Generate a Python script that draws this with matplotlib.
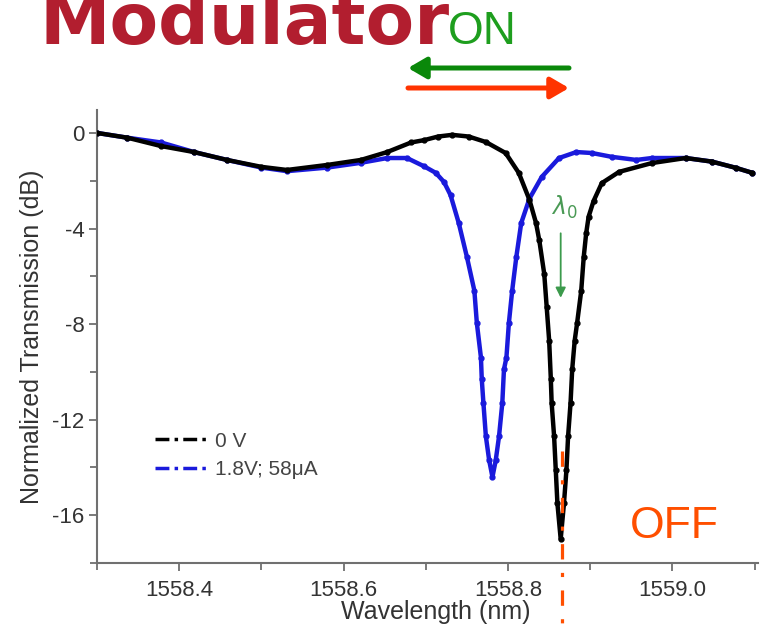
import matplotlib
matplotlib.use('Agg')
import matplotlib.pyplot as plt
from matplotlib.lines import Line2D
from matplotlib.ticker import MultipleLocator, FormatStrFormatter

plt.rcParams['font.family'] = ['Liberation Sans', 'DejaVu Sans']
plt.rcParams['axes.unicode_minus'] = False

# transmission at 0 V (nm, dB)
wl_0v = [1558.300, 1558.337, 1558.378, 1558.418, 1558.458, 1558.500, 1558.531,
         1558.580, 1558.621, 1558.653, 1558.682, 1558.698, 1558.715, 1558.732,
         1558.752, 1558.773, 1558.797, 1558.813, 1558.826, 1558.834, 1558.838,
         1558.844, 1558.847, 1558.850, 1558.852, 1558.853, 1558.856, 1558.858,
         1558.860, 1558.864, 1558.868, 1558.871, 1558.873, 1558.876, 1558.878,
         1558.881, 1558.884, 1558.889, 1558.892, 1558.895, 1558.898, 1558.904,
         1558.914, 1558.935, 1558.975, 1559.016, 1559.048, 1559.077, 1559.097]
tr_0v = [0.0, -0.2, -0.55, -0.8, -1.13, -1.42, -1.55,
         -1.34, -1.13, -0.8, -0.4, -0.3, -0.15, -0.08,
         -0.15, -0.38, -0.84, -1.67, -2.8, -3.77, -4.5,
         -5.9, -7.3, -8.7, -10.3, -11.3, -12.7, -14.1,
         -15.5, -17.0, -15.5, -14.1, -12.7, -11.3, -9.9,
         -8.7, -7.95, -6.6, -5.2, -4.2, -3.5, -2.85,
         -2.1, -1.63, -1.26, -1.05, -1.2, -1.46, -1.67]

# transmission at 1.8 V; 58 uA
wl_bias = [1558.300, 1558.337, 1558.378, 1558.418, 1558.458, 1558.500, 1558.531,
           1558.580, 1558.621, 1558.653, 1558.677, 1558.698, 1558.712, 1558.722,
           1558.730, 1558.740, 1558.750, 1558.759, 1558.762, 1558.767, 1558.768,
           1558.770, 1558.773, 1558.777, 1558.781, 1558.785, 1558.789, 1558.793,
           1558.795, 1558.798, 1558.801, 1558.805, 1558.810, 1558.816, 1558.826,
           1558.841, 1558.862, 1558.883, 1558.902, 1558.926, 1558.956, 1558.975,
           1559.016, 1559.048, 1559.077, 1559.097]
tr_bias = [0.0, -0.2, -0.4, -0.8, -1.13, -1.45, -1.6,
           -1.45, -1.25, -1.05, -1.05, -1.4, -1.67, -2.05,
           -2.6, -3.77, -5.2, -6.6, -7.95, -9.4, -10.3,
           -11.3, -12.7, -13.7, -14.4, -13.7, -12.7, -11.3,
           -9.9, -9.4, -7.95, -6.6, -5.2, -3.77, -2.75,
           -1.84, -1.05, -0.8, -0.84, -1.0, -1.13, -1.05,
           -1.05, -1.2, -1.46, -1.67]

labels = ['0 V', '1.8V; 58\u03bcA']
colors = ['black', '#1a1adc']
lambda0 = 1558.865

fig = plt.figure(figsize=(7.61, 6.31), dpi=100)
ax = fig.add_axes([97 / 761, 68 / 631, 661 / 761, 453 / 631])

ax.plot(wl_bias, tr_bias, color=colors[1], lw=3.2, marker='o', ms=3.5, zorder=2)
ax.plot(wl_0v, tr_0v, color=colors[0], lw=3.2, marker='o', ms=3.5, zorder=3)

ax.set_xlim(1558.3, 1559.104)
ax.set_ylim(-18, 0.96)
ax.xaxis.set_major_locator(MultipleLocator(0.2))
ax.xaxis.set_minor_locator(MultipleLocator(0.1))
ax.xaxis.set_major_formatter(FormatStrFormatter('%.1f'))
ax.yaxis.set_major_locator(MultipleLocator(4))
ax.yaxis.set_minor_locator(MultipleLocator(2))

for s in ['top', 'right']:
    ax.spines[s].set_visible(False)
for s in ['left', 'bottom']:
    ax.spines[s].set_color('#707070')
    ax.spines[s].set_linewidth(1.5)
ax.tick_params(which='both', direction='out', color='#707070', width=1.3,
               labelsize=16, labelcolor='#333333')
ax.tick_params(which='major', length=6)
ax.tick_params(which='minor', length=5)
ax.tick_params(axis='x', pad=6)
ax.tick_params(axis='y', pad=3)

ax.set_xlabel('Wavelength (nm)', fontsize=18, color='#333333')
ax.xaxis.set_label_coords((436 - 97) / 661, -(612 - 563) / 453)
ax.xaxis.label.set_va('center')
ax.set_ylabel('Normalized Transmission (dB)', fontsize=18, color='#333333')
ax.yaxis.set_label_coords(-(97 - 32) / 661, 0.5)
ax.yaxis.label.set_va('center')

handles = [Line2D([], [], color=c, lw=2.5, ls=(0, (4, 1.5, 1, 1.5))) for c in colors]
ax.legend(handles, labels, loc='upper left', bbox_to_anchor=(0.088, 0.29),
          frameon=False, fontsize=15, labelcolor='#444444', handlelength=2.6,
          handletextpad=0.25, labelspacing=0.45, borderaxespad=0, borderpad=0)

# resonance marker
ax.annotate('', xy=(lambda0 - 0.001, -6.9), xytext=(lambda0 - 0.001, -4.2),
            arrowprops=dict(arrowstyle='-|>,head_length=0.5,head_width=0.25',
                            color='#3c9a4c', lw=1.3, shrinkA=0, shrinkB=0,
                            mutation_scale=12))
ax.text(lambda0 + 0.003, -3.1, r'$\lambda_0$', color='#4a9a55', fontsize=17,
        ha='center', va='center')

# operating wavelength, OFF state
ax.plot([lambda0, lambda0], [-13.3, -21], color='#ff4f00', lw=2.3,
        ls=(0, (4.8, 4.2, 1.3, 4.2)), clip_on=False, zorder=4)
fig.text(630 / 761, 1 - 526 / 631, 'OFF', color='#ff4f00', fontsize=32,
         va='center', ha='left')

# heading and tuning arrows
fig.text(40 / 761, 1 - 44 / 631, 'Modulator', color='#b21e2f', fontsize=51,
         fontweight='bold', family='DejaVu Sans', va='baseline', ha='left')
fig.text(482 / 761, 1 - 32 / 631, 'ON', color='#1e9e1e', fontsize=33,
         va='center', ha='center')
ax.annotate('', xy=(408, 631 - 68), xytext=(569, 631 - 68), xycoords='figure pixels',
            arrowprops=dict(arrowstyle='-|>,head_length=0.55,head_width=0.32',
                            color='#0a880a', lw=3.6, shrinkA=0, shrinkB=0,
                            mutation_scale=20))
ax.annotate('', xy=(569, 631 - 88), xytext=(408, 631 - 88), xycoords='figure pixels',
            arrowprops=dict(arrowstyle='-|>,head_length=0.55,head_width=0.32',
                            color='#ff3300', lw=3.6, shrinkA=0, shrinkB=0,
                            mutation_scale=20))

fig.savefig('out.png', dpi=100)
